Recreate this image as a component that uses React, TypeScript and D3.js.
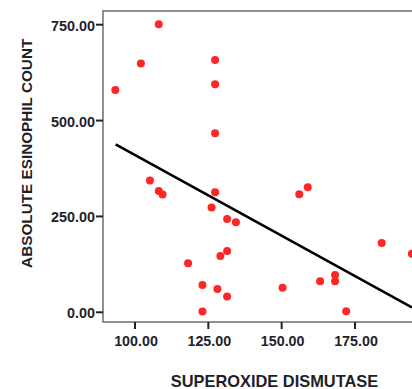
import React from "react";
import * as d3 from "d3";

const sodValues = [93.3, 102, 108.1, 105.1, 108.1, 109.4, 127.3, 127.3, 127.3, 127.3, 156, 158.9, 118.1, 123, 123, 126.1, 131.4, 134.4, 129.1, 131.4, 128.1, 131.4, 150.3, 163.1, 168.2, 168.2, 172, 184.1, 194.4];
const eosValues = [580, 649, 751, 344, 316, 307, 658, 595, 467, 313, 308, 326, 128, 71, 2, 273, 243, 235, 147, 160, 61, 41, 64, 81, 97, 81, 3, 181, 153];
const fitX = [93.4, 194.4];
const fitY = [438, 13];
const xTicks = [100, 125, 150, 175];
const yTicks = [0, 250, 500, 750];
const xLabel = "SUPEROXIDE DISMUTASE";
const yLabel = "ABSOLUTE ESINOPHIL COUNT";

export default function App() {
  const left = 103, top = 11, bottom = 322, right = 418;
  const x = d3.scaleLinear().domain([100, 175]).range([135, 355]);
  const y = d3.scaleLinear().domain([0, 750]).range([312.3, 24.7]);
  const line = d3.line<number>().x((d, i) => x(fitX[i])).y((d, i) => y(fitY[i]));
  const font = "'Liberation Sans', Arial, sans-serif";
  const textColor = "#1f1f2a";
  return (
    <svg width={412} height={389} style={{ position: "fixed", left: 0, top: 0, background: "#fff" }}>
      <rect x={0} y={0} width={412} height={389} fill="#fff" />
      <rect x={left} y={top} width={right - left} height={bottom - top} fill="none" stroke="#6e6e6e" strokeWidth={1.5} />
      {yTicks.map((t) => (
        <g key={"y" + t}>
          <line x1={96} x2={left} y1={y(t)} y2={y(t)} stroke="#222" strokeWidth={2} />
          <text x={95} y={y(t) + 1} dy="0.35em" textAnchor="end" fontFamily={font} fontWeight="bold" fontSize={14.4} fill={textColor}>
            {d3.format(".2f")(t)}
          </text>
        </g>
      ))}
      {xTicks.map((t) => (
        <g key={"x" + t}>
          <line x1={x(t)} x2={x(t)} y1={bottom} y2={329} stroke="#222" strokeWidth={2} />
          <text x={x(t) + 1} y={345.7} textAnchor="middle" fontFamily={font} fontWeight="bold" fontSize={14.3} fill={textColor}>
            {d3.format(".2f")(t)}
          </text>
        </g>
      ))}
      <path d={line(fitX) || ""} fill="none" stroke="#000" strokeWidth={2.6} />
      {sodValues.map((v, i) => (
        <circle key={i} cx={x(v)} cy={y(eosValues[i])} r={4} fill="#ff2626" />
      ))}
      <text x={274.5} y={386.5} textAnchor="middle" fontFamily={font} fontWeight="bold" fontSize={16.4} fill={textColor}>
        {xLabel}
      </text>
      <text transform={`translate(31.5,153.3) rotate(-90)`} textAnchor="middle" fontFamily={font} fontWeight="bold" fontSize={15.3} fill={textColor}>
        {yLabel}
      </text>
    </svg>
  );
}
